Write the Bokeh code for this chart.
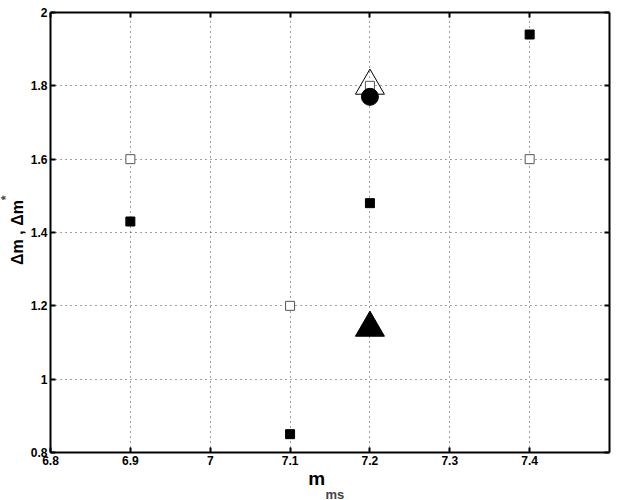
from bokeh.plotting import figure
from bokeh.models import LinearAxis, Title, FixedTicker, Range1d
from bokeh.embed import file_html
from bokeh.resources import INLINE

# data
x_ticks = [6.8, 6.9, 7.0, 7.1, 7.2, 7.3, 7.4]
x_tick_labels = {6.8: "6.8", 6.9: "6.9", 7.0: "7", 7.1: "7.1", 7.2: "7.2", 7.3: "7.3", 7.4: "7.4"}
y_ticks = [0.8, 1.0, 1.2, 1.4, 1.6, 1.8, 2.0]
y_tick_labels = {0.8: "0.8", 1.0: "1", 1.2: "1.2", 1.4: "1.4", 1.6: "1.6", 1.8: "1.8", 2.0: "2"}

filled_sq_x = [6.9, 7.1, 7.2, 7.4]
filled_sq_y = [1.43, 0.85, 1.48, 1.94]
open_sq_x = [6.9, 7.1, 7.2, 7.4]
open_sq_y = [1.60, 1.20, 1.80, 1.60]
open_tri_x = [7.2]
open_tri_y = [1.80]
circle_x = [7.2]
circle_y = [1.77]
filled_tri_x = [7.2]
filled_tri_y = [1.14]

FONT = "Liberation Sans"
NB = "\u00a0"

p = figure(width=623, height=500, output_backend="svg", toolbar_location=None,
           x_range=Range1d(6.8, 7.5), y_range=Range1d(0.8, 2.0),
           min_border_left=50, min_border_right=14, min_border_top=12, min_border_bottom=48)
p.outline_line_color = None
p.background_fill_color = "white"

for ax in p.xaxis + p.yaxis:
    ax.axis_line_width = 2
    ax.major_tick_line_width = 2
    ax.major_tick_in = 5
    ax.major_tick_out = 0
    ax.minor_tick_line_color = None
    ax.major_label_text_font = FONT
    ax.major_label_text_font_style = "bold"
    ax.major_label_text_font_size = "12px"
    ax.major_label_text_color = "black"
    ax.axis_label_text_font = FONT
    ax.axis_label_text_font_style = "bold"
    ax.axis_label_text_color = "black"

p.xaxis.ticker = FixedTicker(ticks=x_ticks)
p.xaxis.major_label_overrides = x_tick_labels
p.xaxis.major_label_standoff = 3
p.xaxis.axis_label = "m" + NB * 5
p.xaxis.axis_label_text_font_size = "19px"
p.xaxis.axis_label_standoff = 0

p.yaxis.ticker = FixedTicker(ticks=y_ticks)
p.yaxis.major_label_overrides = y_tick_labels
p.yaxis.major_label_standoff = 3
p.yaxis.axis_label = "\u0394m , \u0394m"
p.yaxis.axis_label_text_font_size = "16px"
p.yaxis.axis_label_standoff = 2

top = LinearAxis(ticker=FixedTicker(ticks=x_ticks), major_label_text_font_size="0px",
                 axis_line_width=2, major_tick_line_width=2, major_tick_in=5, major_tick_out=0,
                 minor_tick_line_color=None, major_label_standoff=0)
right = LinearAxis(ticker=FixedTicker(ticks=y_ticks), major_label_text_font_size="0px",
                   axis_line_width=2, major_tick_line_width=2, major_tick_in=5, major_tick_out=0,
                   minor_tick_line_color=None, major_label_standoff=0)
p.add_layout(top, "above")
p.add_layout(right, "right")

sub = Title(text="ms", text_font=FONT, text_font_style="bold", text_font_size="13px",
            align="left", offset=275, standoff=-14)
p.add_layout(sub, "below")
sup = Title(text="*", text_font=FONT, text_font_style="bold", text_font_size="12px",
            align="right", offset=183, standoff=-14)
p.add_layout(sup, "left")

for g in p.xgrid + p.ygrid:
    g.grid_line_color = "black"
    g.grid_line_alpha = 0.75
    g.grid_line_dash = "1 4"
    g.grid_line_width = 1
p.xgrid.ticker = FixedTicker(ticks=x_ticks)
p.ygrid.ticker = FixedTicker(ticks=y_ticks)

p.scatter(open_sq_x, open_sq_y, marker="square", size=9, fill_color="white",
          line_color="#555555", line_width=1)
p.scatter(filled_sq_x, filled_sq_y, marker="square", size=9, fill_color="black",
          line_color="black")
p.scatter(open_tri_x, open_tri_y, marker="triangle", size=29, fill_color=None,
          line_color="black", line_width=1)
p.scatter(circle_x, circle_y, marker="circle", size=17, fill_color="black",
          line_color="black")
p.scatter(filled_tri_x, filled_tri_y, marker="triangle", size=29, fill_color="black",
          line_color="black")

open("out.html", "w").write(file_html(p, INLINE))
